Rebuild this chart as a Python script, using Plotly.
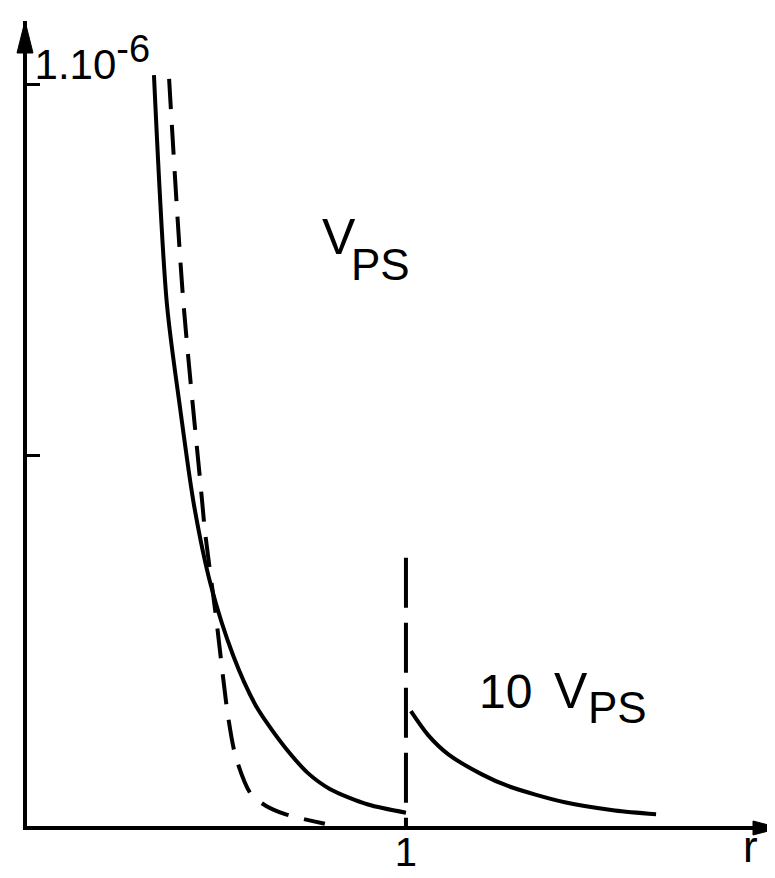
import plotly.graph_objects as go

# values in units of 1e-6
r_solid = [0.335, 0.369, 0.405, 0.441, 0.485, 0.544, 0.602, 0.636, 0.681, 0.740, 0.799, 0.900, 1.000]
v_solid = [1.013, 0.705, 0.560, 0.432, 0.325, 0.230, 0.164, 0.137, 0.106, 0.072, 0.050, 0.029, 0.018]

r_dashed = [0.375, 0.412, 0.459, 0.470, 0.499, 0.530, 0.551, 0.591, 0.631, 0.681, 0.786]
v_dashed = [1.008, 0.711, 0.455, 0.396, 0.281, 0.150, 0.093, 0.043, 0.027, 0.016, 0.003]

r_edge = [1.0, 1.0]
v_edge = [0.362, 0.0]

r_outer = [1.013, 1.058, 1.111, 1.199, 1.269, 1.419, 1.551, 1.660]
v_outer = [0.155, 0.123, 0.097, 0.070, 0.054, 0.032, 0.021, 0.016]

y_tickvals = [1.0]
y_ticktext = ["1.10<sup><span style='font-size:38px'>-6</span></sup>"]
y_minor_tickvals = [0.5]
x_tickvals = [1]
x_ticktext = ["1"]

FONT = "Liberation Sans, Arial, sans-serif"
ink = "#000000"

fig = go.Figure()
fig.add_trace(go.Scatter(x=r_solid, y=v_solid, mode="lines",
                         line=dict(color=ink, width=4, shape="spline", smoothing=0.8)))
fig.add_trace(go.Scatter(x=r_dashed, y=v_dashed, mode="lines",
                         line=dict(color=ink, width=4, dash="30px,16px", shape="spline", smoothing=0.8)))
fig.add_trace(go.Scatter(x=r_edge, y=v_edge, mode="lines",
                         line=dict(color=ink, width=4, dash="50px,15px")))
fig.add_trace(go.Scatter(x=r_outer, y=v_outer, mode="lines",
                         line=dict(color=ink, width=4, shape="spline", smoothing=0.8)))

fig.update_layout(
    width=775, height=878,
    margin=dict(l=19, r=3, t=13, b=60),
    paper_bgcolor="white", plot_bgcolor="white",
    showlegend=False,
    font=dict(family=FONT, color=ink, size=44),
    xaxis=dict(range=[0, 1.987], showgrid=False, zeroline=False,
               showline=True, linewidth=4, linecolor=ink,
               tickvals=x_tickvals, ticktext=x_ticktext, ticks="",
               ticklabelstandoff=-12,
               tickfont=dict(size=40, family=FONT, color=ink)),
    yaxis=dict(range=[0, 1.086], showgrid=False, zeroline=False,
               showline=True, linewidth=4, linecolor=ink,
               tickvals=y_tickvals, ticktext=y_ticktext, ticks="inside",
               ticklen=13, tickwidth=3, tickcolor=ink,
               minor=dict(tickvals=y_minor_tickvals, ticks="inside", ticklen=13,
                          tickwidth=3, tickcolor=ink, showgrid=False),
               ticklabelposition="inside", ticklabelshift=-20,
               tickfont=dict(size=42, family=FONT, color=ink)),
    shapes=[
        dict(type="path", xref="paper", yref="paper", xsizemode="pixel", ysizemode="pixel",
             xanchor=0, yanchor=1, path="M-2,0 L-10,-32 L6,-32 Z",
             fillcolor=ink, line=dict(color=ink, width=1)),
        dict(type="path", xref="paper", yref="paper", xsizemode="pixel", ysizemode="pixel",
             xanchor=1, yanchor=0, path="M0,-2 L-27,5 L-27,-9 Z",
             fillcolor=ink, line=dict(color=ink, width=1)),
    ],
    annotations=[
        dict(x=0.822, y=0.795, xref="x", yref="y", text="V", showarrow=False,
             font=dict(size=50, family=FONT, color=ink)),
        dict(x=0.933, y=0.757, xref="x", yref="y", text="PS", showarrow=False,
             font=dict(size=44, family=FONT, color=ink)),
        dict(x=1.262, y=0.182, xref="x", yref="y", text="10", showarrow=False,
             font=dict(size=48, family=FONT, color=ink)),
        dict(x=1.435, y=0.182, xref="x", yref="y", text="V", showarrow=False,
             font=dict(size=50, family=FONT, color=ink)),
        dict(x=1.557, y=0.160, xref="x", yref="y", text="PS", showarrow=False,
             font=dict(size=44, family=FONT, color=ink)),
        dict(x=1.910, y=0, xref="x", yref="paper", text="r", showarrow=False,
             yanchor="top", yshift=6, font=dict(size=44, family=FONT, color=ink)),
    ],
)

fig.write_html("out.html")
